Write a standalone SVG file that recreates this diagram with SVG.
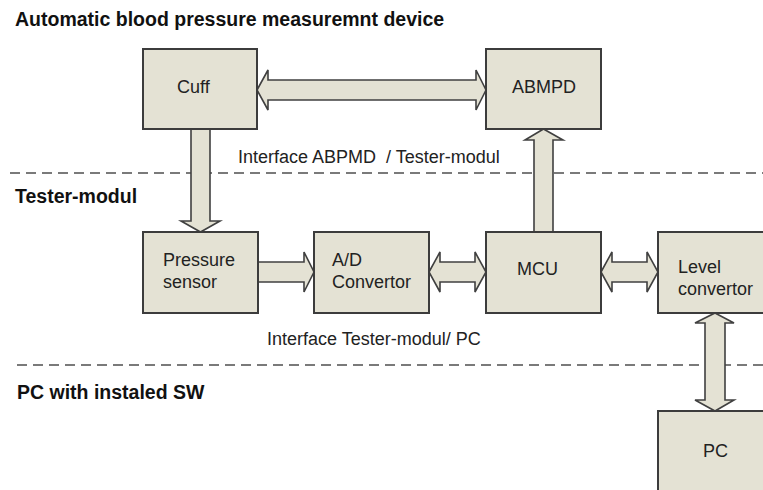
<svg xmlns="http://www.w3.org/2000/svg" width="763" height="490" viewBox="0 0 763 490">
<style>
.box{fill:#e4e2d4;stroke:#3c3c3c;stroke-width:2}
.arr{fill:#e4e2d4;stroke:#404040;stroke-width:1.6;stroke-linejoin:miter}
.lbl{font-family:"Liberation Sans",Arial,sans-serif;font-size:18px;fill:#222}
.ttl{font-family:"Liberation Sans",Arial,sans-serif;font-size:19.5px;font-weight:bold;fill:#111}
.sep{stroke:#7a7a7a;stroke-width:2;stroke-dasharray:10 6;fill:none}
</style>
<rect width="763" height="490" fill="#ffffff"/>
<g id="separators">
<line class="sep" x1="10" y1="173" x2="763" y2="173"/>
<line class="sep" x1="17" y1="365" x2="763" y2="365"/>
</g>
<g id="titles">
<text class="ttl" x="15" y="26">Automatic blood pressure measuremnt device</text>
<text class="ttl" x="15" y="203">Tester-modul</text>
<text class="ttl" x="17" y="399">PC with instaled SW</text>
<text class="lbl" x="238" y="163">Interface ABPMD&#160; / Tester-modul</text>
<text class="lbl" x="267" y="345">Interface Tester-modul/ PC</text>
</g>
<g id="connectors">
<path class="arr" d="M257,90 L268,70 L268,80 L476,80 L476,70 L486,90 L476,110 L476,100 L268,100 L268,110 Z"/>
<path class="arr" d="M191,129 L210,129 L210,221 L220,221 L200.5,232 L181,221 L191,221 Z"/>
<path class="arr" d="M258,262 L304,262 L304,252 L314,272 L304,292 L304,282 L258,282 Z"/>
<path class="arr" d="M429,272 L440,252 L440,262 L475,262 L475,252 L486,272 L475,292 L475,282 L440,282 L440,292 Z"/>
<path class="arr" d="M601,272 L612,252 L612,262 L647,262 L647,252 L658,272 L647,292 L647,282 L612,282 L612,292 Z"/>
<path class="arr" d="M534,232 L534,140 L525,140 L543.5,129 L563,140 L553,140 L553,232 Z"/>
<path class="arr" d="M715,313 L734,323 L725,323 L725,400 L734,400 L715,411 L695,400 L705,400 L705,323 L695,323 Z"/>
</g>
<g id="cuff"><rect class="box" x="143" y="49" width="114" height="80"/><text class="lbl" x="177" y="93">Cuff</text></g>
<g id="abmpd"><rect class="box" x="486" y="49" width="115" height="80"/><text class="lbl" x="512" y="93">ABMPD</text></g>
<g id="pressure-sensor"><rect class="box" x="143" y="232" width="115" height="81"/><text class="lbl" x="163" y="266">Pressure</text><text class="lbl" x="163" y="288">sensor</text></g>
<g id="ad-convertor"><rect class="box" x="314" y="232" width="115" height="81"/><text class="lbl" x="332" y="266">A/D</text><text class="lbl" x="332" y="288">Convertor</text></g>
<g id="mcu"><rect class="box" x="486" y="232" width="115" height="81"/><text class="lbl" x="517" y="275">MCU</text></g>
<g id="level-convertor"><rect class="box" x="658" y="232" width="115" height="81"/><text class="lbl" x="678" y="273">Level</text><text class="lbl" x="678" y="295">convertor</text></g>
<g id="pc"><rect class="box" x="658" y="411" width="115" height="85"/><text class="lbl" x="703" y="457">PC</text></g>
</svg>
